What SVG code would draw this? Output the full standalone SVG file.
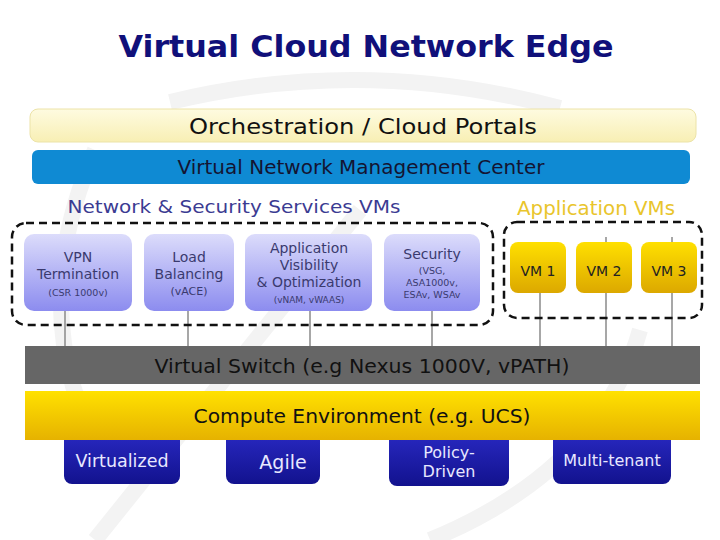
<svg xmlns="http://www.w3.org/2000/svg" width="720" height="540" viewBox="0 0 720 540">
<defs>
<linearGradient id="lav" x1="0" y1="0" x2="0" y2="1"><stop offset="0" stop-color="#dcdcfb"/><stop offset="1" stop-color="#8c8cef"/></linearGradient>
<linearGradient id="gold" x1="0" y1="0" x2="0" y2="1"><stop offset="0" stop-color="#ffe000"/><stop offset="1" stop-color="#dca800"/></linearGradient>
<linearGradient id="ybar" x1="0" y1="0" x2="0" y2="1"><stop offset="0" stop-color="#ffe100"/><stop offset="1" stop-color="#e6b200"/></linearGradient>
<linearGradient id="orch" x1="0" y1="0" x2="0" y2="1"><stop offset="0" stop-color="#fefbe0"/><stop offset="1" stop-color="#f8efb4"/></linearGradient>
<linearGradient id="navy" x1="0" y1="0" x2="0" y2="1"><stop offset="0" stop-color="#2a2ac4"/><stop offset="1" stop-color="#12128e"/></linearGradient>
</defs>
<style>
text{font-family:"DejaVu Sans",Verdana,sans-serif;text-anchor:middle}
.lav{fill:url(#lav)}
.vm{fill:url(#gold)}
.nv{fill:url(#navy)}
.nt{fill:#3a3a6e;font-size:14px}
.st{fill:#3a3a6e;font-size:9.5px}
.vt{fill:#222;font-size:14px}
.bt{fill:#e8e8ff;font-size:16px}
.dash{fill:none;stroke:#111;stroke-width:2.5;stroke-dasharray:8 5}
.con{stroke:#8a8a8a;stroke-width:1.5}
.wm{fill:none;stroke:#f3f3f3;stroke-width:16}
</style>
<rect width="720" height="540" fill="#fff"/>
<g id="watermark">
<path class="wm" d="M170 102 Q365 55 560 108"/>
<path class="wm" d="M95 150 Q20 320 110 470"/>
<path class="wm" d="M95 540 L360 210"/>
<path class="wm" d="M430 540 Q600 470 640 330"/>
</g>
<text x="366" y="57" textLength="495" lengthAdjust="spacingAndGlyphs" style="font-size:30px;font-weight:bold;fill:#10107a">Virtual Cloud Network Edge</text>
<g id="orchestration">
<rect x="30" y="109" width="666" height="33" rx="8" fill="url(#orch)" stroke="#ece3a8" stroke-width="1"/>
<text x="363" y="134" textLength="348" lengthAdjust="spacingAndGlyphs" style="font-size:21px;fill:#111">Orchestration / Cloud Portals</text>
</g>
<g id="vnmc">
<rect x="32" y="150" width="658" height="34" rx="6" fill="#0f8ad3"/>
<text x="361" y="174" textLength="367" lengthAdjust="spacingAndGlyphs" style="font-size:19px;fill:#141432">Virtual Network Management Center</text>
</g>
<text x="234" y="213" textLength="333" lengthAdjust="spacingAndGlyphs" style="font-size:18.5px;fill:#3b3b92">Network &amp; Security Services VMs</text>
<text x="596" y="215" textLength="158" lengthAdjust="spacingAndGlyphs" style="font-size:19px;fill:#e9c52c">Application VMs</text>
<g id="connectors">
<line class="con" x1="65" y1="311" x2="65" y2="347"/>
<line class="con" x1="188" y1="311" x2="188" y2="347"/>
<line class="con" x1="310" y1="311" x2="310" y2="347"/>
<line class="con" x1="432" y1="311" x2="432" y2="347"/>
<line class="con" x1="540" y1="292" x2="540" y2="347"/>
<line class="con" x1="606" y1="292" x2="606" y2="347"/>
<line class="con" x1="672" y1="292" x2="672" y2="347"/>
<line class="con" x1="606" y1="237" x2="606" y2="243"/>
<line class="con" x1="672" y1="237" x2="672" y2="243"/>
</g>
<g id="services-group"><rect class="dash" x="12" y="223" width="481" height="102" rx="14"/></g>
<g id="appvm-group"><rect class="dash" x="504" y="222" width="198" height="96" rx="13"/></g>
<g id="vpn">
<rect class="lav" x="24" y="234" width="108" height="77" rx="10"/>
<text class="nt" x="78" y="262">VPN</text>
<text class="nt" x="78" y="279">Termination</text>
<text class="st" x="78" y="296">(CSR 1000v)</text>
</g>
<g id="lb">
<rect class="lav" x="144" y="234" width="90" height="77" rx="10"/>
<text class="nt" x="189" y="262">Load</text>
<text class="nt" x="189" y="279">Balancing</text>
<text class="st" x="189" y="295" style="font-size:11px">(vACE)</text>
</g>
<g id="appvis">
<rect class="lav" x="245" y="234" width="127" height="77" rx="10"/>
<text class="nt" x="309" y="253">Application</text>
<text class="nt" x="309" y="270">Visibility</text>
<text class="nt" x="309" y="287">&amp; Optimization</text>
<text class="st" x="309" y="303" style="font-size:9px">(vNAM, vWAAS)</text>
</g>
<g id="security">
<rect class="lav" x="384" y="234" width="96" height="77" rx="10"/>
<text class="nt" x="432" y="259">Security</text>
<text class="st" x="432" y="274">(VSG,</text>
<text class="st" x="432" y="286">ASA1000v,</text>
<text class="st" x="432" y="298">ESAv, WSAv</text>
</g>
<g id="vm1"><rect class="vm" x="510" y="242" width="56" height="51" rx="8"/><text class="vt" x="538" y="276">VM 1</text></g>
<g id="vm2"><rect class="vm" x="576" y="242" width="56" height="51" rx="8"/><text class="vt" x="604" y="276">VM 2</text></g>
<g id="vm3"><rect class="vm" x="641" y="242" width="56" height="51" rx="8"/><text class="vt" x="669" y="276">VM 3</text></g>
<g id="vswitch">
<rect x="25" y="346" width="675" height="38" fill="#666"/>
<text x="362" y="373" textLength="415" lengthAdjust="spacingAndGlyphs" style="font-size:20px;fill:#111">Virtual Switch (e.g Nexus 1000V, vPATH)</text>
</g>
<g id="virtualized"><rect class="nv" x="64" y="430" width="116" height="54" rx="8"/><text class="bt" x="122" y="467" style="font-size:17.5px">Virtualized</text></g>
<g id="agile"><rect class="nv" x="226" y="430" width="94" height="54" rx="8"/><text class="bt" x="283" y="469" style="font-size:19px">Agile</text></g>
<g id="policy"><rect class="nv" x="389" y="430" width="120" height="56" rx="8"/><text class="bt" x="449" y="458">Policy-</text><text class="bt" x="449" y="477">Driven</text></g>
<g id="multitenant"><rect class="nv" x="553" y="430" width="118" height="54" rx="8"/><text class="bt" x="612" y="466">Multi-tenant</text></g>
<g id="compute">
<rect x="25" y="391" width="675" height="49" fill="url(#ybar)"/>
<text x="362" y="423" textLength="337" lengthAdjust="spacingAndGlyphs" style="font-size:20px;fill:#111">Compute Environment (e.g. UCS)</text>
</g>
</svg>
